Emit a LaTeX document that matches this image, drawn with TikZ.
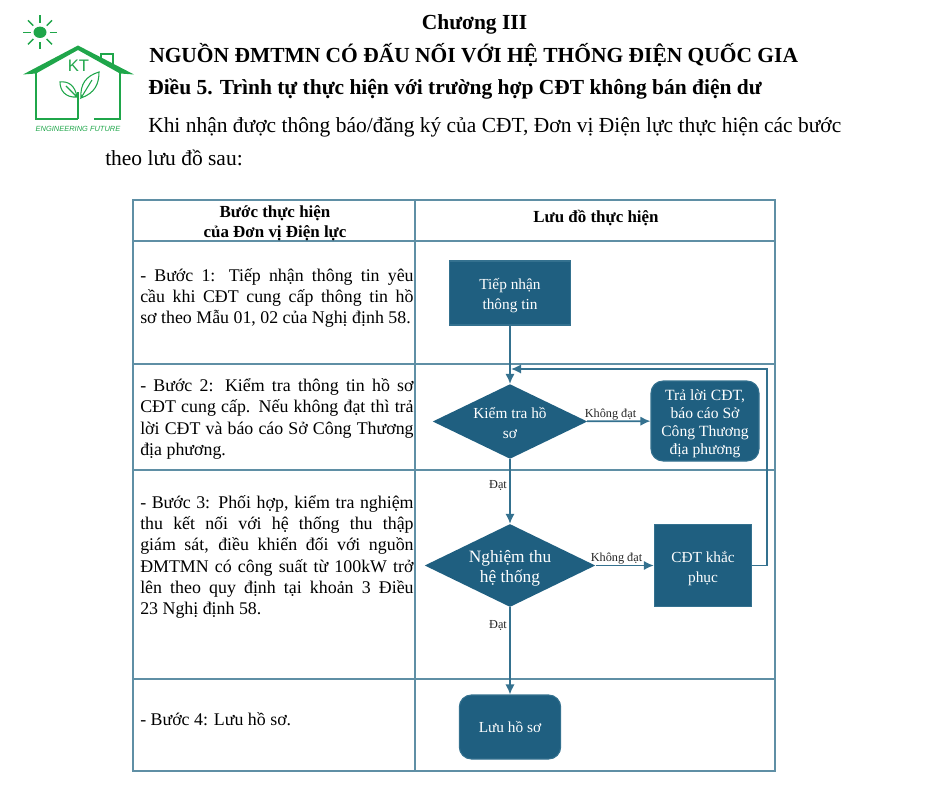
\documentclass[tikz,border=0pt]{standalone}
\usepackage{fontspec}
\setmainfont{Liberation Serif}
\setsansfont{Liberation Sans}
\usetikzlibrary{shapes,arrows.meta}
\definecolor{flowblue}{HTML}{1F5F80}
\definecolor{linkblue}{HTML}{34718F}
\definecolor{gridblue}{HTML}{5F8FA5}
\definecolor{logogreen}{HTML}{1FA64A}
\newcommand{\boxtop}[1]{{}\\[#1]}
\tikzset{
  gridline/.style={draw=gridblue,line width=0.8pt},
  flowline/.style={draw=linkblue,line width=1.3pt,-{Latex[length=7.5pt,width=7pt]}},
  flowtext/.style={text=white,align=center,font=\fontsize{11.5}{15}\selectfont,inner sep=0pt},
  stepbox/.style={flowtext,rectangle,fill=flowblue,draw=linkblue,line width=0.8pt},
  roundbox/.style={stepbox,rounded corners=9pt},
  checkbox/.style={flowtext,diamond,fill=flowblue,aspect=2},
  linklabel/.style={font=\fontsize{9.2}{10}\selectfont,text=black!85,inner sep=0pt},
  steptext/.style={anchor=west,text width=205pt,align=justify,inner sep=0pt,font=\fontsize{13.4}{15.9}\selectfont},
  headtext/.style={font=\fontsize{12.7}{15}\bfseries\selectfont,align=center,inner sep=0pt},
  headline/.style={anchor=west,font=\fontsize{16.1}{18}\bfseries\selectfont,inner sep=0pt},
  bodyline/.style={anchor=west,font=\fontsize{16.1}{18}\selectfont,inner sep=0pt},
  logoline/.style={draw=logogreen,line width=1.9pt,line join=miter}
}
\begin{document}
\begin{tikzpicture}[x=0.75pt,y=-0.75pt]
  \useasboundingbox (0,0) rectangle (940,788);

  % logo
  \fill[logogreen] (40,32.3) ellipse (6.5 and 5.7);
  \foreach \a in {0,45,...,315}
    \draw[logogreen,line width=1.1pt] ({40+9.5*cos(\a)},{32.3+9.5*sin(\a)}) -- ({40+17*cos(\a)},{32.3+17*sin(\a)});
  \fill[logogreen] (23,74.5) -- (78,45.5) -- (134,74.5) -- (120,73.5) -- (78,50) -- (36,73.5) -- cycle;
  \draw[logogreen,line width=1.6pt] (101,59) -- (101,54) -- (113,54) -- (113,66);
  \draw[logoline] (36,73) -- (36,119) -- (78,119);
  \draw[logoline] (94,119) -- (120,119) -- (120,72);
  \draw[logogreen,line width=0.9pt] (78,119) -- (78,92);
  \draw[logogreen,line width=0.8pt] (77,97) .. controls (75,85) and (68,81) .. (60,82) .. controls (60,90) and (65,98) .. (77,97) -- (66,86);
  \draw[logogreen,line width=0.8pt] (81,98) .. controls (80,84) and (86,76) .. (99,72) .. controls (99,84) and (95,93) .. (81,98) -- (92,80);
  \node[text=logogreen,font=\sffamily\fontsize{12.5}{13}\selectfont,inner sep=0pt] (logoname) at (78.5,65.5) {KT};
  \node[text=logogreen,font=\sffamily\itshape\fontsize{5.6}{6}\selectfont,inner sep=0pt] (logotag) at (78,128.5) {ENGINEERING FUTURE};

  % heading
  \node[headline,anchor=center] (chapter) at (474.5,24) {Chương III};
  \node[headline] (title) at (149,55.5) {NGUỒN ĐMTMN CÓ ĐẤU NỐI VỚI HỆ THỐNG ĐIỆN QUỐC GIA};
  \node[headline] (article) at (148,89.5) {Điều 5. Trình tự thực hiện với trường hợp CĐT không bán điện dư};
  \node[bodyline] (intro) at (148,127) {Khi nhận được thông báo/đăng ký của CĐT, Đơn vị Điện lực thực hiện các bước};
  \node[bodyline] (introb) at (105,158) {theo lưu đồ sau:};

  % table
  \draw[gridline] (133,200) rectangle (775,771);
  \draw[gridline] (415,200) -- (415,771);
  \foreach \y in {241,364,470,679}
    \draw[gridline] (133,\y) -- (775,\y);

  \node[headtext] (headleft) at (275,223) {Bước thực hiện\\của Đơn vị Điện lực};
  \node[headtext] (headright) at (596,218.5) {Lưu đồ thực hiện};

  \node[steptext] (stepa) at (140,298) {- Bước 1: Tiếp nhận thông tin yêu\linebreak cầu khi CĐT cung cấp thông tin hồ\linebreak sơ theo Mẫu 01, 02 của Nghị định 58.};
  \node[steptext] (stepb) at (140,419) {- Bước 2: Kiểm tra thông tin hồ sơ\linebreak CĐT cung cấp. Nếu không đạt thì trả\linebreak lời CĐT và báo cáo Sở Công Thương\linebreak địa phương.};
  \node[steptext] (stepc) at (140,557) {- Bước 3: Phối hợp, kiểm tra nghiệm\linebreak thu kết nối với hệ thống thu thập\linebreak giám sát, điều khiển đối với nguồn\linebreak ĐMTMN có công suất từ 100kW trở\linebreak lên theo quy định tại khoản 3 Điều\linebreak 23 Nghị định 58.};
  \node[steptext] (stepd) at (140,719.5) {- Bước 4: Lưu hồ sơ.};

  % flow chart
  \node[stepbox,minimum width=91pt,minimum height=48pt] (receive) at (510,293) {\boxtop{-2.5pt}Tiếp nhận\\thông tin};
  \node[checkbox,minimum width=116pt,minimum height=56pt] (check) at (510,421.5) {\boxtop{-4.75pt}Kiểm tra hồ\\sơ};
  \node[roundbox,minimum width=81pt,minimum height=60pt,font=\fontsize{11.7}{13.7}\selectfont] (reply) at (705,421) {\boxtop{-1.5pt}Trả lời CĐT,\\báo cáo Sở\\Công Thương\\địa phương};
  \node[checkbox,minimum width=128pt,minimum height=62pt,font=\fontsize{13}{15}\selectfont] (accept) at (510,565.5) {\boxtop{-1.5pt}Nghiệm thu\\hệ thống};
  \node[stepbox,minimum width=73pt,minimum height=62pt] (fix) at (703,565.5) {\boxtop{-2.5pt}CĐT khắc\\phục};
  \node[roundbox,minimum width=76pt,minimum height=48pt] (archive) at (510,727) {Lưu hồ sơ};

  \coordinate (loopb) at (767,369);
  \coordinate (loopc) at (511,369);

  \draw[flowline] (receive) -- (check);
  \draw[flowline] (check) -- (reply);
  \draw[flowline] (check) -- (accept);
  \draw[flowline] (accept) -- (fix);
  \draw[flowline] (accept) -- (archive);
  \draw[flowline] (fix.east) -| (loopb) -- (loopc);

  \node[linklabel] (faila) at (610.5,414.5) {Không đạt};
  \node[linklabel] (failb) at (616.5,558.5) {Không đạt};
  \node[linklabel] (passa) at (498,485) {Đạt};
  \node[linklabel] (passb) at (498,625) {Đạt};
\end{tikzpicture}
\end{document}
